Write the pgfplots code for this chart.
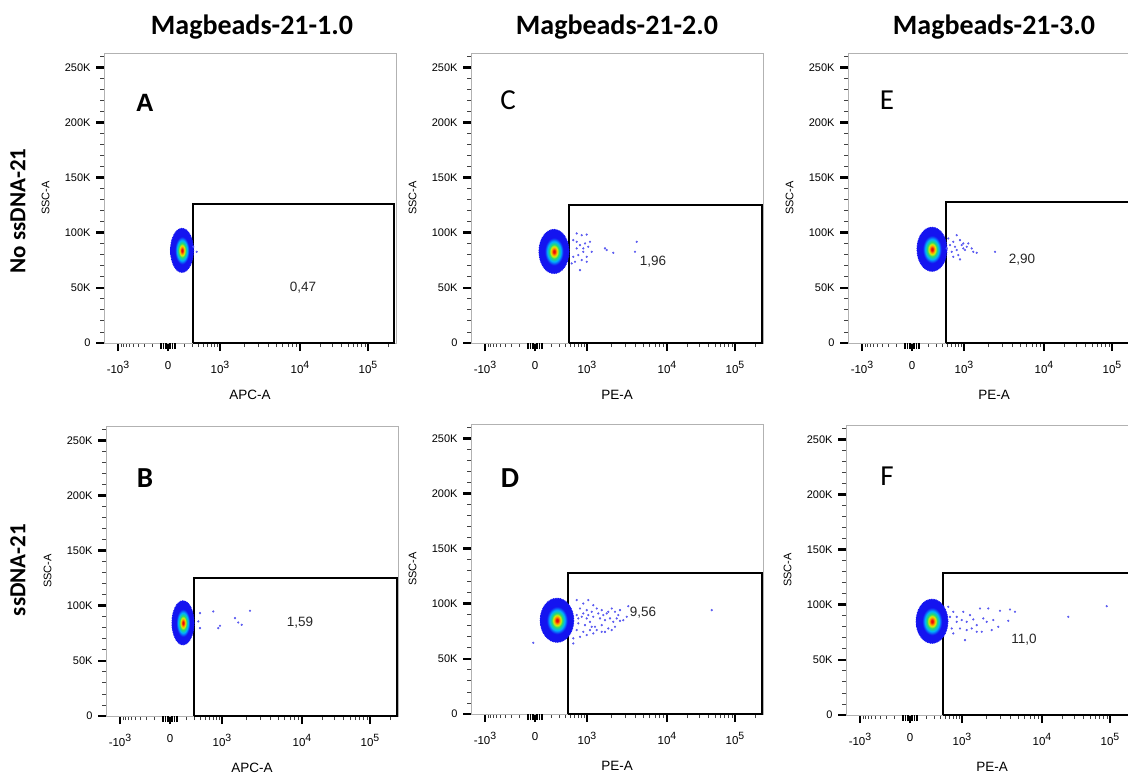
\documentclass[border=0pt]{standalone}
\usepackage{fontspec}
\setmainfont{Liberation Sans}
\newfontfamily\calfont{Carlito}
\usepackage{pgfplots}
\pgfplotsset{compat=1.18}
\definecolor{jb}{RGB}{20,20,240}
\definecolor{jc}{RGB}{0,175,255}
\definecolor{jg}{RGB}{40,220,110}
\definecolor{jy}{RGB}{225,235,0}
\definecolor{jo}{RGB}{255,130,0}
\definecolor{jr}{RGB}{230,10,10}
\definecolor{dotc}{RGB}{90,90,240}
\pgfdeclareradialshading{jet}{\pgfpointorigin}{color(0bp)=(jr); color(1.5bp)=(jr); color(3.5bp)=(jo); color(5.5bp)=(jy); color(8bp)=(jg); color(11.5bp)=(jc); color(15.5bp)=(jb); color(25bp)=(jb); color(50bp)=(jb)}
\pgfdeclareplotmark{blob}{%
  \pgfpathcircle{\pgfpointorigin}{\pgfplotmarksize}%
  \pgfshadepath{jet}{0}%
  \pgfusepath{discard}%
  \pgfsetroundcap\pgfsetdash{{0pt}{1.7pt}}{0pt}\pgfsetlinewidth{1.4pt}%
  \pgfsetstrokecolor{jb}%
  \pgfpathcircle{\pgfpointorigin}{\pgfplotmarksize}%
  \pgfusepath{stroke}}
\newcommand\ex[1]{\raisebox{5pt}{\fontsize{10.5}{10}\selectfont #1}}
\tikzset{num/.style={font=\fontsize{13.5}{15}\selectfont, text=black!85}}
\pgfplotsset{
  panel/.style={
    scale only axis, width=292pt, height=290pt, anchor=south west,
    xmin=0, xmax=292, ymin=0, ymax=263, clip=false,
    axis line style={gray!60, line width=0.9pt},
    tick align=outside, tick pos=left,
    xtick={14,64,116,196,264},
    xticklabels={-10\ex{3},0,10\ex{3},10\ex{4},10\ex{5}},
    minor xtick={17,19,22,25,29,34,40,48,80,88,94,99,103,107,110,113,140,154,164,172,178,184,188,192,216,228,237,244,249,253,257,261,284},
    extra x ticks={57,59.5,62,66,68.5,71},
    extra x tick labels={},
    extra x tick style={major tick length=6pt, every major tick/.style={black, line width=1.5pt}},
    ytick={0,50,100,150,200,250},
    yticklabels={0,50K,100K,150K,200K,250K},
    minor ytick={10,20,30,40,60,70,80,90,110,120,130,140,160,170,180,190,210,220,230,240,260},
    major tick length=8pt, minor tick length=4pt,
    every tick/.style={black},
    every major tick/.style={black, line width=2.6pt},
    every minor tick/.style={black!75, line width=0.9pt},
    xticklabel style={font=\fontsize{11.5}{13}\selectfont, yshift=-7pt},
    yticklabel style={font=\fontsize{11}{13}\selectfont, xshift=-2pt},
    every axis x label/.style={at={(axis description cs:0.5,-0.178)}, anchor=center, font=\fontsize{13.5}{15}\selectfont},
    every axis y label/.style={at={(axis description cs:-0.2,0.5)}, anchor=center, rotate=90, font=\fontsize{11}{13}\selectfont},
    ylabel={SSC-A},
  },
  blobst/.style={only marks, mark=blob, mark size=22pt},
  dots/.style={only marks, mark=*, mark size=0.9pt, color=dotc},
  gate/.style={black, line width=2pt, mark=none},
}
\begin{document}
\begin{tikzpicture}
\useasboundingbox (0,0) rectangle (1128pt,-773pt);
\node at (252pt,-27pt) {\calfont\bfseries\fontsize{28}{32}\selectfont Magbeads-21-1.0};
\node at (617pt,-27pt) {\calfont\bfseries\fontsize{28}{32}\selectfont Magbeads-21-2.0};
\node at (994pt,-27pt) {\calfont\bfseries\fontsize{28}{32}\selectfont Magbeads-21-3.0};
\node[rotate=90] at (18pt,-211pt) {\calfont\bfseries\fontsize{23}{26}\selectfont No ssDNA-21};
\node[rotate=90] at (18pt,-570pt) {\calfont\bfseries\fontsize{23}{26}\selectfont ssDNA-21};

% ---------- A ----------
\begin{axis}[panel, at={(104pt,-343pt)}, xlabel={APC-A}]
\addplot[blobst, mark options={xscale=0.52}] coordinates {(78,84)};
\addplot[dots] coordinates {(92.7,82.7) (89.3,87.2)};
\addplot[gate] coordinates {(89,0) (89,126) (290,126) (290,0) (89,0)};
\node[num] at (axis cs:199,49.8) {0,47};
\node at (axis cs:41,218) {\bfseries\fontsize{25}{28}\selectfont A};
\end{axis}

% ---------- C ----------
\begin{axis}[panel, at={(471pt,-343pt)}, xlabel={PE-A}]
\addplot[blobst, mark options={xscale=0.68}] coordinates {(83,83)};
\addplot[dots] coordinates {(105.7,99.4) (110.7,97.8) (115.7,98.3) (119,91.8) (114,90.3) (109,88.8) (105.7,85.8) (117.3,87.3) (120.7,82.7) (112.3,82.7) (107.3,79.7) (115.7,78.2) (110.7,75.2) (104,73.7) (100.7,72.2) (109,66.1) (134,85.8) (135.7,84.3) (142.3,81.8) (165.7,91.8) (164,82.7) (102.3,93.3) (102.3,78.2) (112.3,85.8) (105.7,91.8) (115.7,73.7)};
\addplot[gate] coordinates {(98,0) (98,125) (291,125) (291,0) (98,0)};
\node[num] at (axis cs:182,73.4) {1,96};
\node at (axis cs:37,220) {\calfont\fontsize{29}{32}\selectfont C};
\end{axis}

% ---------- E ----------
\begin{axis}[panel, at={(848pt,-343pt)}, xlabel={PE-A}]
\addplot[blobst, mark options={xscale=0.68}] coordinates {(84,85)};
\addplot[dots] coordinates {(100.3,94.8) (105.3,91.8) (108.7,97.8) (112,93.3) (113.7,88.8) (115.3,85.8) (117,84.3) (107,87.3) (103.7,82.7) (110.3,79.7) (112,75.8) (118.7,87.3) (123.7,85.8) (125.3,82.7) (128.7,81.8) (147,82.7) (105.3,78.2) (102,88.8) (98.7,85.8) (120.3,90.3) (108.7,84.3) (115.3,90.3)};
\addplot[gate] coordinates {(98,0) (98,128) (291,128) (291,0) (98,0)};
\node[num] at (axis cs:174,76) {2,90};
\node at (axis cs:39,220) {\calfont\fontsize{29}{32}\selectfont E};
\end{axis}

% ---------- B ----------
\begin{axis}[panel, at={(106pt,-716pt)}, xlabel={APC-A}]
\addplot[blobst, mark options={xscale=0.5}] coordinates {(77,84.5)};
\addplot[dots] coordinates {(107.3,94.8) (112.3,79.7) (114,81.8) (129,88.8) (132.3,84.8) (135.7,82.7) (144,95.5) (94,93.3) (92.3,85.8) (94,79.7)};
\addplot[gate] coordinates {(88,0) (88,125) (291,125) (291,0) (88,0)};
\node[num] at (axis cs:194,84.5) {1,59};
\node at (axis cs:39,216) {\calfont\bfseries\fontsize{29}{32}\selectfont B};
\end{axis}

% ---------- D ----------
\begin{axis}[panel, at={(471pt,-714pt)}, xlabel={PE-A}]
\addplot[blobst, mark options={xscale=0.76}] coordinates {(86,85)};
\addplot[dots] coordinates {(105.7,103.3) (112.3,100.2) (117.3,103.3) (122.3,98.7) (109,95.7) (115.7,94.2) (120.7,92.7) (125.7,95.7) (130.7,94.2) (135.7,91.2) (140.7,95.7) (144,92.7) (147.3,89.7) (152.3,85.1) (157.3,97.8) (105.7,89.7) (110.7,88.2) (115.7,86.7) (122.3,88.2) (129,86.7) (134,85.1) (139,86.7) (142.3,83.6) (149,84.5) (107.3,82.2) (114,80.6) (119,83.6) (124,79.1) (130.7,80.6) (137.3,77.6) (144,79.1) (105.7,76.1) (112.3,74.5) (119,76.1) (125.7,76.1) (134,74.5) (140.7,76.1) (109,70.0) (115.7,71.6) (122.3,73.1) (102.3,64.0) (62.3,64.6) (240.7,94.2) (145.7,86.7) (137.3,92.7) (132.3,89.7) (127.3,91.2) (117.3,89.7) (112.3,91.2) (107.3,86.7) (120.7,79.1) (149,94.2) (155.7,88.2) (102.3,68.6) (130.7,74.5)};
\addplot[gate] coordinates {(97,0) (97,128) (291,128) (291,0) (97,0)};
\node[num] at (axis cs:172,91.5) {9,56};
\node at (axis cs:39,214) {\calfont\bfseries\fontsize{29}{32}\selectfont D};
\end{axis}

% ---------- F ----------
\begin{axis}[panel, at={(846pt,-715pt)}, xlabel={PE-A}]
\addplot[blobst, mark options={xscale=0.72}] coordinates {(86,85)};
\addplot[dots] coordinates {(102.3,98.1) (107.3,93.6) (110.7,89.0) (115.7,86.1) (120.7,84.5) (127.3,86.7) (134,96.6) (142.3,96.6) (154,94.5) (164,95.7) (169,93.6) (162.3,85.4) (152.3,80.0) (140.7,84.5) (135.7,75.5) (125.7,78.5) (120.7,77.0) (119,67.9) (114,78.5) (107.3,74.0) (110.7,84.5) (104,89.0) (130.7,81.5) (137.3,87.6) (147.3,86.1) (124,90.6) (117.3,93.6) (145.7,77.0) (222.3,89.0) (260.7,98.7) (105.7,78.5) (130.7,75.5)};
\addplot[gate] coordinates {(97,0) (97,129) (291,129) (291,0) (97,0)};
\node[num] at (axis cs:178,68) {11,0};
\node at (axis cs:41,217) {\calfont\fontsize{29}{32}\selectfont F};
\end{axis}
\end{tikzpicture}
\end{document}
